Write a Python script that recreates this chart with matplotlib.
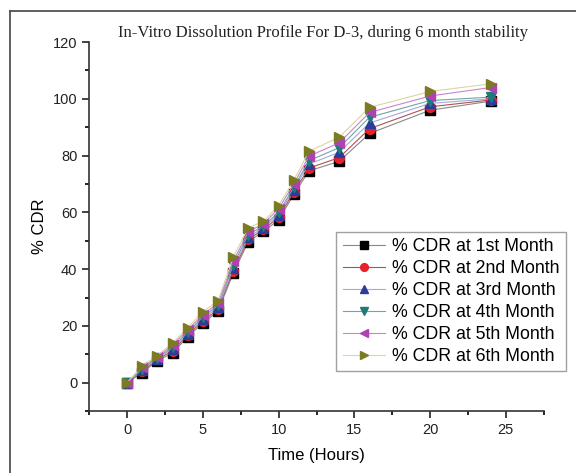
import numpy as np
import matplotlib.pyplot as plt
from matplotlib.lines import Line2D
from matplotlib.ticker import MultipleLocator

# time points (hours)
hours = [0, 1, 2, 3, 4, 5, 6, 7, 8, 9, 10, 11, 12, 14, 16, 20, 24]

# % CDR for each month of stability
cdr_m1 = [0, 3.5, 7.8, 10.4, 16.2, 21.0, 25.2, 38.5, 49.7, 53.3, 57.4, 66.3, 74.6, 78.0, 87.8, 96.0, 99.2]
cdr_m2 = [0, 4.0, 8.2, 11.2, 16.8, 21.8, 25.8, 39.5, 50.5, 54.0, 58.3, 67.2, 75.6, 79.3, 89.5, 97.2, 99.6]
cdr_m3 = [0, 4.5, 8.5, 12.0, 17.3, 22.5, 26.5, 40.5, 51.3, 54.6, 59.2, 68.0, 77.0, 81.2, 91.5, 98.4, 100.0]
cdr_m4 = [0, 4.9, 8.8, 12.5, 17.8, 23.2, 27.2, 41.5, 52.2, 55.2, 60.0, 68.8, 78.2, 82.8, 93.5, 99.4, 100.6]
cdr_m5 = [0, 5.5, 9.2, 13.3, 18.6, 24.0, 28.0, 42.8, 53.2, 56.0, 61.3, 70.0, 79.8, 84.5, 95.2, 101.0, 104.0]
cdr_m6 = [0, 6.0, 9.5, 14.0, 19.4, 25.0, 28.8, 44.2, 54.6, 56.8, 62.4, 71.3, 81.5, 86.5, 97.0, 102.6, 105.3]

labels = ['% CDR at 1st Month', '% CDR at 2nd Month', '% CDR at 3rd Month',
          '% CDR at 4th Month', '% CDR at 5th Month', '% CDR at 6th Month']

series = [cdr_m1, cdr_m2, cdr_m3, cdr_m4, cdr_m5, cdr_m6]
markers = ['s', 'o', '^', 'v', '<', '>']
marker_colors = ['#000000', '#e8202a', '#2c3c9c', '#1f7a7a', '#b040b4', '#7c7a22']
line_colors = ['#888888', '#b05050', '#a8a8d8', '#6aa8a8', '#d080d0', '#d8d8a0']

fig = plt.figure(figsize=(5.76, 4.73), dpi=100)
ax = fig.add_axes([0.155, 0.131, 0.789, 0.780])

for y, m, mc, lc, lab in zip(series, markers, marker_colors, line_colors, labels):
    ax.plot(hours, y, color=lc, lw=0.8, marker=m, ms=7,
            markerfacecolor=mc, markeredgecolor=mc, label=lab)

ax.set_xlim(-2.5, 27.5)
ax.set_ylim(-10, 120)
ax.xaxis.set_major_locator(MultipleLocator(5))
ax.xaxis.set_minor_locator(MultipleLocator(2.5))
ax.yaxis.set_major_locator(MultipleLocator(20))
ax.yaxis.set_minor_locator(MultipleLocator(10))
ax.tick_params(which='major', direction='out', length=5, width=1.2, labelsize=10.5, colors='#222222')
ax.tick_params(which='minor', direction='out', length=3, width=1.2)
for lab in ax.get_xticklabels() + ax.get_yticklabels():
    lab.set_family('Liberation Sans')

ax.spines['top'].set_visible(False)
ax.spines['right'].set_visible(False)
ax.spines['left'].set_linewidth(1.2)
ax.spines['bottom'].set_linewidth(1.2)
ax.spines['left'].set_color('#333333')
ax.spines['bottom'].set_color('#333333')

ax.set_xlabel('Time (Hours)', fontsize=12, family='Liberation Sans', labelpad=8)
ax.set_ylabel('% CDR', fontsize=12, family='Liberation Sans', labelpad=4)

fig.text(0.561, 0.930, 'In-Vitro Dissolution Profile For D-3, during 6 month stability',
         ha='center', va='center', fontsize=12, family='Liberation Serif', color='#222222')

leg = ax.legend(loc='upper right', bbox_to_anchor=(0.983, 0.510), bbox_transform=fig.transFigure,
                prop={'family': 'Liberation Sans', 'size': 12.8}, frameon=True, fancybox=False,
                borderaxespad=0, markerscale=0.8,
                handlelength=2.4, handletextpad=0.4, labelspacing=0.28, borderpad=0.35)
leg.get_frame().set_edgecolor('#888888')
leg.get_frame().set_linewidth(1.0)

# outer frame of the picture (left and top edges)
fig.add_artist(Line2D([0.018, 0.018], [0.0, 0.977], transform=fig.transFigure, color='#444444', lw=1.2))
fig.add_artist(Line2D([0.018, 1.0], [0.977, 0.977], transform=fig.transFigure, color='#444444', lw=1.2))

fig.savefig('out.png', dpi=100)
